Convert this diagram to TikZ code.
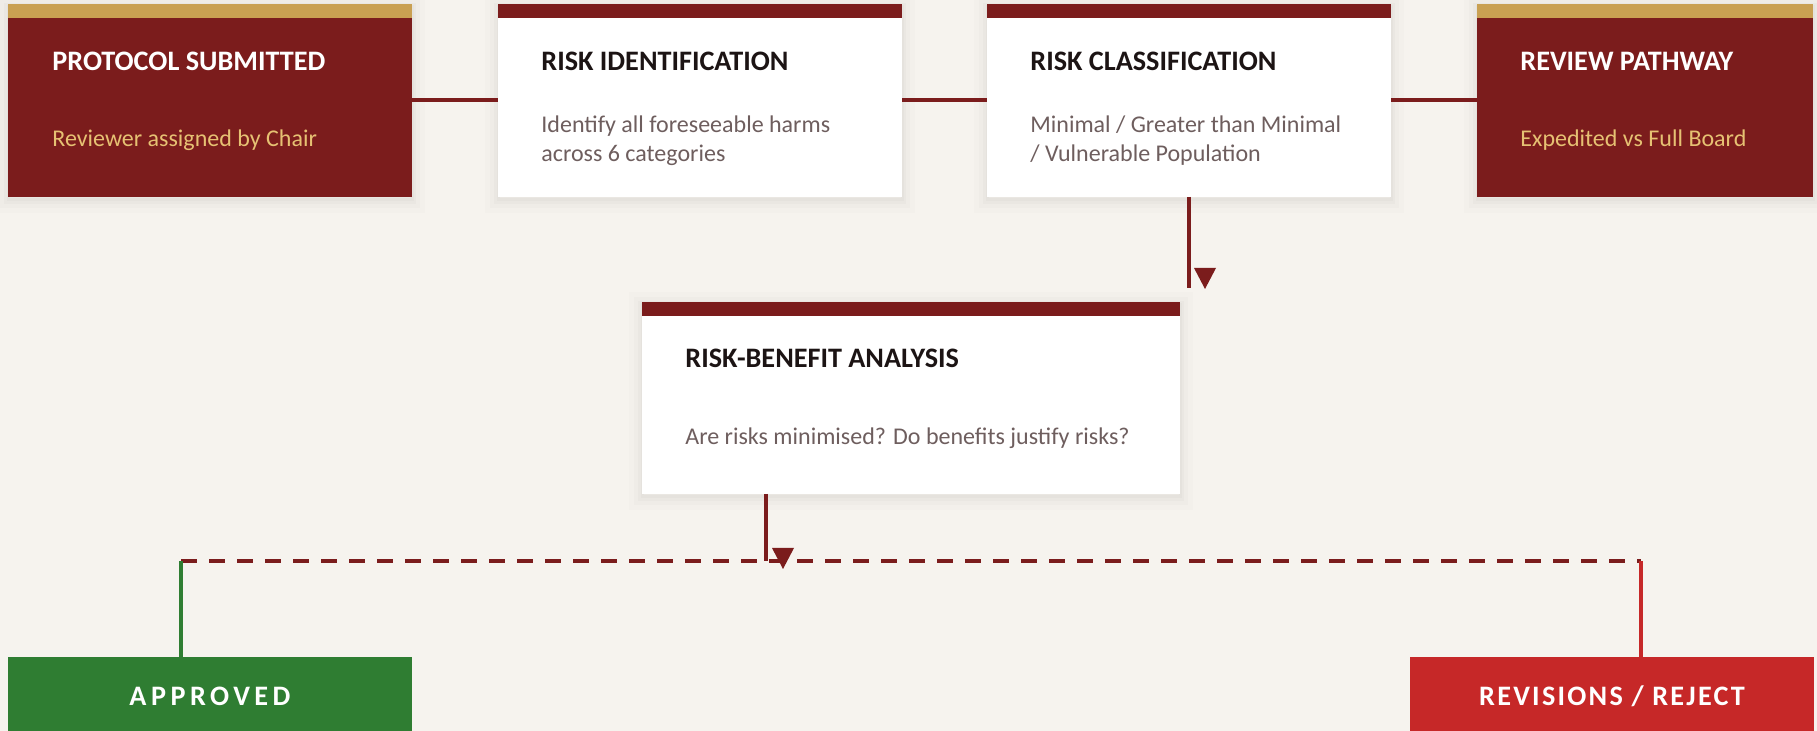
\documentclass[tikz,border=0pt]{standalone}
\usepackage{fontspec}
\setmainfont{Carlito}
\usetikzlibrary{positioning}
\usepackage{xcolor}
\definecolor{paper}{HTML}{F6F3EE}
\definecolor{maroon}{HTML}{7B1C1C}
\definecolor{gold}{HTML}{C9A052}
\definecolor{goldtext}{HTML}{E6C173}
\definecolor{ink}{HTML}{1C1414}
\definecolor{muted}{HTML}{6E5E5E}
\definecolor{okgreen}{HTML}{2F7D32}
\definecolor{nored}{HTML}{C62828}

\begin{document}
\begin{tikzpicture}[x=0.5pt, y=-0.5pt,
  haze/.style 2 args={preaction={draw=black, draw opacity=#1, line width=#2, transform canvas={yshift=-1.5pt}}},
  card/.style={anchor=north west, inner sep=0pt, outer sep=0pt, minimum width=202pt, minimum height=96.5pt, fill=white,
    haze={0.012}{13pt}, haze={0.016}{8pt}, haze={0.02}{4pt}, haze={0.02}{1.5pt}},
  band/.style={path picture={\fill[#1] (path picture bounding box.north west) rectangle ([yshift=-7pt]path picture bounding box.north east);}},
  heading/.style={anchor=base west, inner sep=0pt, text=ink, font=\fontsize{14.1}{17}\selectfont\bfseries},
  note/.style={anchor=base west, inner sep=0pt, align=left, text=muted, font=\fontsize{12}{14.5}\selectfont},
  link/.style={draw=maroon, line width=2pt},
  outcome/.style={anchor=north west, inner sep=0pt, outer sep=0pt, minimum width=202pt, minimum height=37pt},
  verdict/.style={anchor=base, inner sep=0pt, text=white, font=\fontsize{14.1}{17}\selectfont\bfseries\addfontfeature{LetterSpace=#1}}]
  \fill[paper] (0,0) rectangle (1817,731);
  \useasboundingbox (0,0) rectangle (1817,731);

  % top row
  \node[card, fill=maroon, band=gold] (submitted) at (8,4) {};
  \node[card, band=maroon] (identify) at (498,4) {};
  \node[card, band=maroon] (classify) at (987,4) {};
  \node[card, fill=maroon, band=gold, minimum width=168pt] (pathway) at (1477,4) {};

  \node[heading, text=white] (submittedT) at ([xshift=22pt, yshift=-33.5pt]submitted.north west) {PROTOCOL SUBMITTED};
  \node[note, text=goldtext] (submittedN) at ([xshift=22pt, yshift=-71.5pt]submitted.north west) {Reviewer assigned by Chair};
  \node[heading] (identifyT) at ([xshift=21.5pt, yshift=-33.5pt]identify.north west) {RISK IDENTIFICATION};
  \node[note] (identifyN) at ([xshift=21.5pt, yshift=-79pt]identify.north west) {Identify all foreseeable harms\\across 6 categories};
  \node[heading] (classifyT) at ([xshift=21.5pt, yshift=-33.5pt]classify.north west) {RISK CLASSIFICATION};
  \node[note] (classifyN) at ([xshift=21.5pt, yshift=-79pt]classify.north west) {Minimal / Greater than Minimal\\/ Vulnerable Population};
  \node[heading, text=white] (pathwayT) at ([xshift=21.5pt, yshift=-33.5pt]pathway.north west) {REVIEW PATHWAY};
  \node[note, text=goldtext] (pathwayN) at ([xshift=21.5pt, yshift=-71.5pt]pathway.north west) {Expedited vs Full Board};

  \draw[link] (submitted) -- (identify);
  \draw[link] (identify) -- (classify);
  \draw[link] (classify) -- (pathway);

  % analysis
  \node[card, band=maroon, minimum width=269pt, minimum height=96pt] (analysis) at (642,302) {};
  \node[heading] (analysisT) at ([xshift=21.5pt, yshift=-33pt]analysis.north west) {RISK-BENEFIT ANALYSIS};
  \node[note] (analysisN) at ([xshift=21.5pt, yshift=-71.5pt]analysis.north west) {Are risks minimised? Do benefits justify risks?};

  \coordinate (dropA) at ([yshift=-45.5pt]classify.south);
  \coordinate (tipA) at (1205,289);
  \draw[link] (classify.south) -- (dropA);
  \fill[maroon] (tipA) -- ++(-11,-21) -- ++(22,0) -- cycle;

  % decision fork
  \coordinate (dropB) at (766,561);
  \coordinate (tipB) at (783,569);
  \coordinate (forkL) at (181,561);
  \coordinate (forkR) at (1641,561);
  \node[outcome, fill=okgreen] (approved) at (8,657) {};
  \node[outcome, fill=nored] (reject) at (1410,657) {};
  \node[verdict=16] (approvedT) at ([yshift=-24.5pt]approved.north) {APPROVED};
  \node[verdict=8] (rejectT) at ([yshift=-24.5pt]reject.north) {REVISIONS / REJECT};

  \draw[link, dash pattern=on 8pt off 6pt] (forkL) -- (forkR);
  \draw[line width=2pt, okgreen] (forkL) -- (forkL |- approved.north);
  \draw[line width=2pt, nored] (forkR) -- (forkR |- reject.north);
  \draw[link] (analysis.south -| dropB) -- (dropB);
  \fill[maroon] (tipB) -- ++(-11,-21) -- ++(22,0) -- cycle;
\end{tikzpicture}
\end{document}
